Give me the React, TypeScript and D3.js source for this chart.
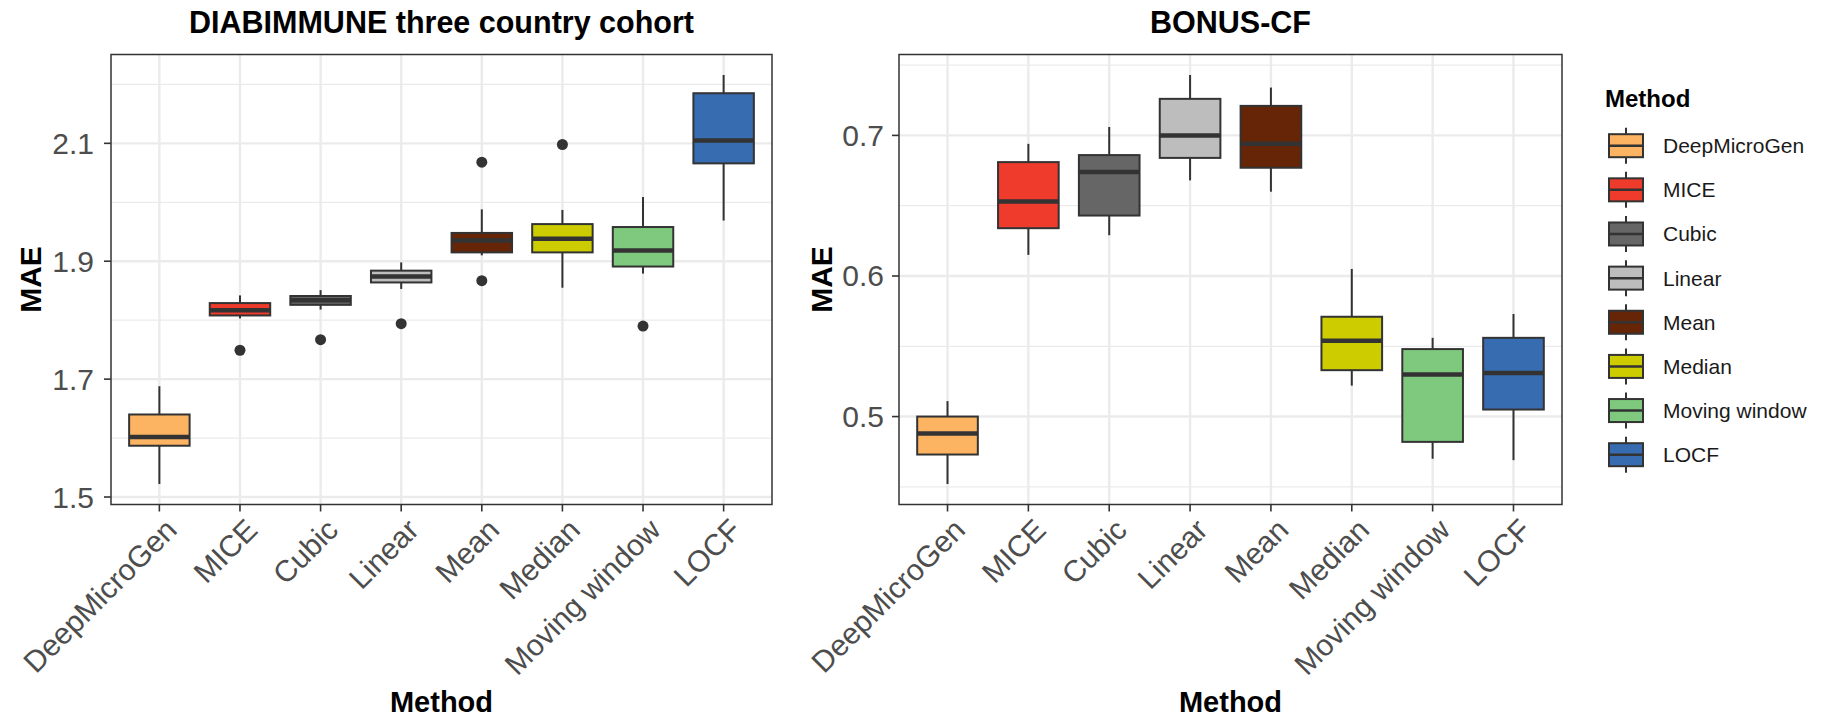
import React, { useRef, useEffect } from 'react';
import * as d3 from 'd3';

const methods = ["DeepMicroGen", "MICE", "Cubic", "Linear", "Mean", "Median", "Moving window", "LOCF"];
const methodColors = ["#FDB462", "#EF3B2C", "#666666", "#BDBDBD", "#662506", "#CCCC00", "#7FC97F", "#386CB0"];

// DIABIMMUNE three country cohort
const diabLow = [1.522, 1.803, 1.818, 1.853, 1.910, 1.855, 1.879, 1.969];
const diabQ1 = [1.587, 1.808, 1.826, 1.864, 1.915, 1.915, 1.891, 2.066];
const diabMedian = [1.602, 1.817, 1.834, 1.874, 1.935, 1.938, 1.918, 2.105];
const diabQ3 = [1.640, 1.829, 1.841, 1.884, 1.948, 1.963, 1.958, 2.185];
const diabHigh = [1.688, 1.842, 1.851, 1.898, 1.988, 1.987, 2.009, 2.216];
const diabOutliers = [[], [1.749], [1.767], [1.794], [2.068, 1.867], [2.098], [1.790], []];
const diabTicks = [1.5, 1.7, 1.9, 2.1];
const diabMinor = [1.6, 1.8, 2.0, 2.2];

// BONUS-CF
const bonusLow = [0.452, 0.615, 0.629, 0.668, 0.660, 0.522, 0.470, 0.469];
const bonusQ1 = [0.473, 0.634, 0.643, 0.684, 0.677, 0.533, 0.482, 0.505];
const bonusMedian = [0.488, 0.653, 0.674, 0.700, 0.694, 0.554, 0.530, 0.531];
const bonusQ3 = [0.500, 0.681, 0.686, 0.726, 0.721, 0.571, 0.548, 0.556];
const bonusHigh = [0.511, 0.694, 0.706, 0.743, 0.734, 0.605, 0.556, 0.573];
const bonusOutliers: number[][] = [[], [], [], [], [], [], [], []];
const bonusTicks = [0.5, 0.6, 0.7];
const bonusMinor = [0.45, 0.55, 0.65, 0.75];

const FONT = "'Liberation Sans', Arial, Helvetica, sans-serif";
const INK = "#333333";

const App = () => {
  const svgRef = useRef<SVGSVGElement | null>(null);

  useEffect(() => {
    const width = 1827;
    const height = 718;
    const svg = d3.select(svgRef.current).attr('width', width).attr('height', height);
    svg.selectAll('*').remove();
    svg.append('rect').attr('width', width).attr('height', height).attr('fill', '#fff');

    const top = 54.5;
    const bottom = 504.5;

    const panels = [
      { title: "DIABIMMUNE three country cohort", left: 111, right: 772, labelX: 94, maeX: 30,
        low: diabLow, q1: diabQ1, med: diabMedian, q3: diabQ3, high: diabHigh, out: diabOutliers,
        ticks: diabTicks, minor: diabMinor },
      { title: "BONUS-CF", left: 899, right: 1562, labelX: 884, maeX: 821,
        low: bonusLow, q1: bonusQ1, med: bonusMedian, q3: bonusQ3, high: bonusHigh, out: bonusOutliers,
        ticks: bonusTicks, minor: bonusMinor },
    ];

    panels.forEach(p => {
      const g = svg.append('g');
      const x = d3.scalePoint<string>().domain(methods).range([p.left, p.right]).padding(0.6);
      const all = [...p.low, ...p.high, ...p.out.flat()];
      const [mn, mx] = d3.extent(all) as [number, number];
      const pad = (mx - mn) * 0.05;
      const y = d3.scaleLinear().domain([mn - pad, mx + pad]).range([bottom, top]);
      const bw = x.step() * 0.75;
      const fmt = d3.format('.1f');

      // grid
      g.selectAll('.minor').data(p.minor).enter().append('line')
        .attr('x1', p.left).attr('x2', p.right)
        .attr('y1', d => y(d)).attr('y2', d => y(d))
        .attr('stroke', '#EBEBEB').attr('stroke-width', 1.3);
      g.selectAll('.major').data(p.ticks).enter().append('line')
        .attr('x1', p.left).attr('x2', p.right)
        .attr('y1', d => y(d)).attr('y2', d => y(d))
        .attr('stroke', '#EBEBEB').attr('stroke-width', 2.4);
      g.selectAll('.vmajor').data(methods).enter().append('line')
        .attr('x1', d => x(d)!).attr('x2', d => x(d)!)
        .attr('y1', top).attr('y2', bottom)
        .attr('stroke', '#EBEBEB').attr('stroke-width', 2.4);

      // boxes
      methods.forEach((m, i) => {
        const cx = x(m)!;
        g.append('line').attr('x1', cx).attr('x2', cx).attr('y1', y(p.high[i])).attr('y2', y(p.q3[i]))
          .attr('stroke', INK).attr('stroke-width', 2);
        g.append('line').attr('x1', cx).attr('x2', cx).attr('y1', y(p.q1[i])).attr('y2', y(p.low[i]))
          .attr('stroke', INK).attr('stroke-width', 2);
        g.append('rect').attr('x', cx - bw / 2).attr('y', y(p.q3[i]))
          .attr('width', bw).attr('height', y(p.q1[i]) - y(p.q3[i]))
          .attr('fill', methodColors[i]).attr('stroke', INK).attr('stroke-width', 2);
        g.append('line').attr('x1', cx - bw / 2).attr('x2', cx + bw / 2)
          .attr('y1', y(p.med[i])).attr('y2', y(p.med[i]))
          .attr('stroke', INK).attr('stroke-width', 4.5);
        p.out[i].forEach(o => {
          g.append('circle').attr('cx', cx).attr('cy', y(o)).attr('r', 5.5).attr('fill', INK);
        });
      });

      // panel border
      g.append('rect').attr('x', p.left).attr('y', top)
        .attr('width', p.right - p.left).attr('height', bottom - top)
        .attr('fill', 'none').attr('stroke', INK).attr('stroke-width', 1.5);

      // y axis
      p.ticks.forEach(t => {
        g.append('line').attr('x1', p.left - 7).attr('x2', p.left).attr('y1', y(t)).attr('y2', y(t))
          .attr('stroke', INK).attr('stroke-width', 1.6);
        g.append('text').attr('x', p.labelX).attr('y', y(t)).attr('text-anchor', 'end')
          .attr('dominant-baseline', 'central').attr('font-family', FONT).attr('font-size', 30)
          .attr('fill', '#4D4D4D').text(fmt(t));
      });

      // x axis
      methods.forEach(m => {
        const cx = x(m)!;
        g.append('line').attr('x1', cx).attr('x2', cx).attr('y1', bottom).attr('y2', bottom + 7)
          .attr('stroke', INK).attr('stroke-width', 1.6);
        g.append('text').attr('transform', `translate(${cx + 4},${bottom + 12}) rotate(-45)`)
          .attr('text-anchor', 'end').attr('dominant-baseline', 'hanging')
          .attr('font-family', FONT).attr('font-size', 30).attr('fill', '#4D4D4D').text(m);
      });

      const cxPanel = (p.left + p.right) / 2;
      g.append('text').attr('x', cxPanel).attr('y', 33).attr('text-anchor', 'middle')
        .attr('font-family', FONT).attr('font-weight', 'bold').attr('font-size', 30.5).text(p.title);
      g.append('text').attr('x', cxPanel).attr('y', 712).attr('text-anchor', 'middle')
        .attr('font-family', FONT).attr('font-weight', 'bold').attr('font-size', 29).text('Method');
      g.append('text').attr('transform', `translate(${p.maeX},${(top + bottom) / 2}) rotate(-90)`)
        .attr('text-anchor', 'middle').attr('dominant-baseline', 'central')
        .attr('font-family', FONT).attr('font-weight', 'bold').attr('font-size', 30).text('MAE');
    });

    // legend
    const lg = svg.append('g');
    lg.append('text').attr('x', 1605).attr('y', 107).attr('font-family', FONT)
      .attr('font-weight', 'bold').attr('font-size', 24).text('Method');
    const rowY = d3.scalePoint<string>().domain(methods).range([145.7, 454.7]);
    methods.forEach((m, i) => {
      const cy = rowY(m)!;
      lg.append('line').attr('x1', 1626).attr('x2', 1626).attr('y1', cy - 18).attr('y2', cy + 18)
        .attr('stroke', INK).attr('stroke-width', 2);
      lg.append('rect').attr('x', 1609).attr('y', cy - 11.5).attr('width', 34).attr('height', 23)
        .attr('fill', methodColors[i]).attr('stroke', INK).attr('stroke-width', 2);
      lg.append('line').attr('x1', 1609).attr('x2', 1643).attr('y1', cy).attr('y2', cy)
        .attr('stroke', INK).attr('stroke-width', 2.5);
      lg.append('text').attr('x', 1663).attr('y', cy).attr('dominant-baseline', 'central')
        .attr('font-family', FONT).attr('font-size', 21).attr('fill', '#1A1A1A').text(m);
    });
  }, []);

  return (
    <div style={{ position: 'fixed', left: 0, top: 0 }}>
      <svg ref={svgRef} style={{ display: 'block' }}></svg>
    </div>
  );
};

export default App;
